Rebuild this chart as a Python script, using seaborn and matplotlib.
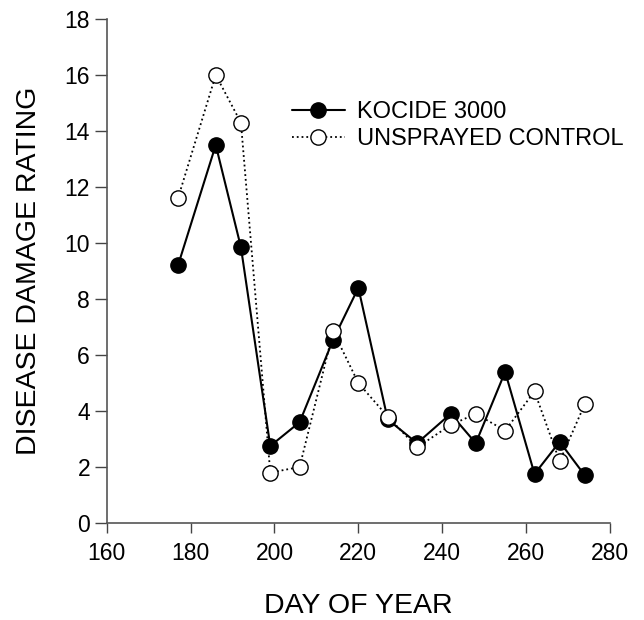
import matplotlib
matplotlib.use("Agg")
import matplotlib.pyplot as plt
import seaborn as sns
import pandas as pd

# Disease damage ratings by day of year
days = [177, 186, 192, 199, 206, 214, 220, 227, 234, 242, 248, 255, 262, 268, 274]
kocide = [9.2, 13.5, 9.85, 2.75, 3.6, 6.55, 8.4, 3.7, 2.85, 3.9, 2.85, 5.4, 1.75, 2.9, 1.7]
control = [11.6, 16.0, 14.3, 1.8, 2.0, 6.85, 5.0, 3.8, 2.7, 3.5, 3.9, 3.3, 4.7, 2.2, 4.25]

x_ticks = [160, 180, 200, 220, 240, 260, 280]
y_ticks = [0, 2, 4, 6, 8, 10, 12, 14, 16, 18]

sns.set_theme(style="ticks", rc={"text.color": "black", "axes.labelcolor": "black",
                                 "xtick.labelcolor": "black", "ytick.labelcolor": "black"})
plt.rcParams["font.family"] = ["Liberation Sans", "DejaVu Sans"]

fig = plt.figure(figsize=(6.44, 6.2), dpi=100)
ax = fig.add_axes([106.7 / 644, 97 / 620, 503.3 / 644, 504 / 620])

df_k = pd.DataFrame({"day": days, "rating": kocide})
df_c = pd.DataFrame({"day": days, "rating": control})

sns.lineplot(data=df_k, x="day", y="rating", ax=ax, estimator=None, sort=False,
             color="black", linewidth=1.5, linestyle="-", marker="o",
             markersize=11, markerfacecolor="black", markeredgecolor="black",
             markeredgewidth=1.0, label="KOCIDE 3000")
sns.lineplot(data=df_c, x="day", y="rating", ax=ax, estimator=None, sort=False,
             color="black", linewidth=1.3, linestyle=":", marker="o",
             markersize=11, markerfacecolor="white", markeredgecolor="black",
             markeredgewidth=1.0, label="UNSPRAYED CONTROL")

ax.set_xlim(160, 280)
ax.set_ylim(0, 18)
ax.set_xticks(x_ticks)
ax.set_yticks(y_ticks)
ax.tick_params(axis="both", labelsize=16.5, color="#444444", width=1.0,
               labelcolor="black")
ax.tick_params(axis="x", length=7, pad=7)
ax.tick_params(axis="y", length=9, pad=3)
for side in ("top", "right"):
    ax.spines[side].set_visible(False)
for side in ("left", "bottom"):
    ax.spines[side].set_color("#555555")
    ax.spines[side].set_linewidth(1.2)

ax.set_xlabel("DAY OF YEAR", fontsize=20.5, labelpad=20, color="black")
ax.set_ylabel("DISEASE DAMAGE RATING", fontsize=20.5, labelpad=16, color="black")

leg = ax.legend(loc="upper left", bbox_to_anchor=(0.368, 0.837), frameon=False,
                fontsize=17, handlelength=2.25, handletextpad=0.5,
                labelspacing=0.2, borderpad=0, borderaxespad=0)
for t in leg.get_texts():
    t.set_color("black")

fig.savefig("out.png", dpi=100)
